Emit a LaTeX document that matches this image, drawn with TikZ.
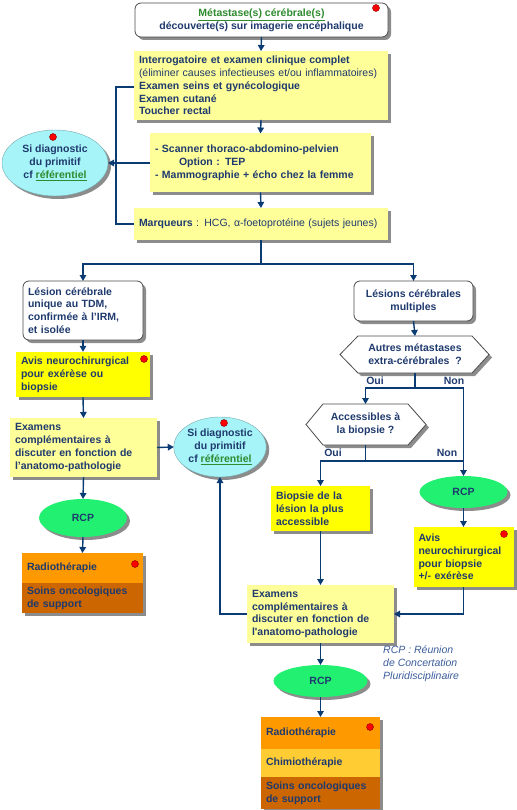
\documentclass[tikz,border=0pt]{standalone}
\usepackage{fontspec}
\setmainfont{Liberation Sans}
\usetikzlibrary{shadows,calc,arrows.meta,shapes.geometric}
\definecolor{navy}{HTML}{1F3A6E}
\definecolor{lnav}{HTML}{0B3B73}
\definecolor{pale}{HTML}{FFFF99}
\definecolor{brightY}{HTML}{FFFF00}
\definecolor{cyanE}{HTML}{A6F4F8}
\definecolor{greenE}{HTML}{22F070}
\definecolor{orA}{HTML}{FF9900}
\definecolor{orB}{HTML}{FFCC33}
\definecolor{orC}{HTML}{CC6600}
\definecolor{linkG}{HTML}{2E8B2E}
\definecolor{noteC}{HTML}{3A5C9A}
\tikzset{
 base/.style={font=\bfseries\fontsize{10.5}{12.8}\selectfont, text=navy, inner sep=5pt, outer sep=0pt},
 shad/.style={drop shadow={shadow xshift=3pt, shadow yshift=-3pt, fill=black!45, opacity=1}},
 whitebox/.style={base, shad, rounded corners=6pt, draw=black!70, line width=0.8pt, fill=white},
 palebox/.style={base, shad, fill=pale, align=left},
 ybox/.style={base, shad, fill=brightY, align=left},
 orbox/.style={base, shad, align=left, anchor=north west, inner ysep=2pt},
 ellcy/.style={base, shad, ellipse, fill=cyanE, draw=cyanE!70!black, line width=0.4pt, inner sep=0pt, align=center},
 ellgr/.style={base, shad, ellipse, fill=greenE, inner sep=0pt, align=center},
 hexin/.style={inner sep=0pt, outer sep=0pt},
 hexsty/.style={shad, draw=black!70, line width=0.8pt, fill=white},
 reddot/.style={circle, fill=red, draw=red!50!black, line width=0.4pt, minimum size=7pt, inner sep=0pt},
 ln/.style={draw=lnav, line width=1.4pt},
 arr/.style={ln, -{Triangle[length=6pt,width=6.5pt]}},
 lbl/.style={base, inner sep=0pt},
}
\begin{document}
\begin{tikzpicture}[x=1pt,y=-1pt]
\useasboundingbox (0,0) rectangle (516,810);
% top
\node[whitebox, minimum width=253pt, minimum height=34pt, align=center] (box1) at (261.5,20)
 {{\color{linkG}\underline{Métastase(s) cérébrale(s)}}\\découverte(s) sur imagerie encéphalique};
\node[reddot] (d1) at (376,8) {};
\node[palebox, minimum height=65pt, text width=244pt] (box2) at (261,85.5)
 {Interrogatoire et examen clinique complet\\{\mdseries (éliminer causes infectieuses et/ou inflammatoires)}\\Examen seins et gynécologique\\Examen cutané\\Toucher rectal};
\node[palebox, minimum height=59pt, text width=211pt] (box3) at (260.5,163)
 {- Scanner thoraco-abdomino-pelvien\\\hspace*{24pt}Option : TEP\\- Mammographie + écho chez la femme};
\node[palebox, minimum height=32pt, text width=244pt] (box4) at (261,224)
 {Marqueurs {\mdseries : HCG, α-foetoprotéine (sujets jeunes)}};
\node[ellcy, minimum width=106pt, minimum height=66pt] (ellL) at (55,163)
 {Si diagnostic\\du primitif\\cf {\color{linkG}\underline{référentiel}}};
\node[reddot] (d2) at (53,137) {};
% left branch
\node[whitebox, minimum height=59pt, text width=110pt, align=left] (lesL) at (83,310.5)
 {Lésion cérébrale\\unique au TDM,\\confirmée à l’IRM,\\et isolée};
\node[ybox, minimum height=45pt, text width=124pt] (avisL) at (83,374.5)
 {Avis neurochirurgical\\pour exérèse ou\\biopsie};
\node[reddot] (d3) at (144,359) {};
\node[palebox, minimum height=59pt, text width=137pt] (examL) at (83.5,447.5)
 {Examens\\complémentaires à\\discuter en fonction de\\l’anatomo-pathologie};
\node[ellcy, minimum width=92pt, minimum height=60pt] (ellM) at (220,447)
 {Si diagnostic\\du primitif\\cf {\color{linkG}\underline{référentiel}}};
\node[reddot] (d4) at (224,423) {};
\node[ellgr, minimum width=88pt, minimum height=38pt] (rcpL) at (83,518) {RCP};
\node[orbox, fill=orA, minimum height=30pt, text width=111pt] (radL) at (22,553) {Radiothérapie};
\node[orbox, fill=orC, minimum height=30pt, text width=111pt] (soinsL) at (22,583) {Soins oncologiques\\de support};
\node[reddot] (d5) at (135,564) {};
% right branch
\node[whitebox, minimum width=119pt, minimum height=40pt, align=center] (lesM) at (413.5,301)
 {Lésions cérébrales\\multiples};
\node[hexin, minimum width=114pt, minimum height=37pt] (hex1) at (415,354.5) {};
\path[hexsty] (hex1.north west) -- (hex1.north east) -- ([xshift=17pt]hex1.east) -- (hex1.south east)
  -- (hex1.south west) -- ([xshift=-18pt]hex1.west) -- cycle;
\node[base, align=center] (hex1t) at (hex1) {Autres métastases\\extra-cérébrales~ ?};
\node[hexin, minimum width=85pt, minimum height=41pt] (hex2) at (365.5,424.5) {};
\path[hexsty] (hex2.north west) -- (hex2.north east) -- ([xshift=18pt]hex2.east) -- (hex2.south east)
  -- (hex2.south west) -- ([xshift=-17pt]hex2.west) -- cycle;
\node[base, align=center] (hex2t) at (hex2) {Accessibles à\\la biopsie ?};
\node[ybox, minimum height=45pt, text width=89pt] (biop) at (320.5,508.5)
 {Biopsie de la\\lésion la plus\\accessible};
\node[ellgr, minimum width=88pt, minimum height=32pt] (rcpR) at (463.5,492) {RCP};
\node[ybox, minimum height=60pt, text width=90pt] (avisR) at (463.5,557)
 {Avis\\neurochirurgical\\pour biopsie\\+/- exérèse};
\node[reddot] (d6) at (504,534) {};
\node[palebox, minimum height=58pt, text width=137pt] (examR) at (320.5,614)
 {Examens\\complémentaires à\\discuter en fonction de\\l\textquotesingle anatomo-pathologie};
\node[font=\itshape\fontsize{10.5}{12.8}\selectfont, text=noteC, align=left, anchor=north west, inner sep=0pt] (note) at (383,646)
 {RCP : Réunion\\de Concertation\\Pluridisciplinaire};
\node[ellgr, minimum width=94pt, minimum height=32pt] (rcpB) at (320.5,681) {RCP};
\node[orbox, fill=orA, minimum height=32pt, text width=109pt] (radB) at (261,717) {Radiothérapie};
\node[orbox, fill=orB, minimum height=28pt, text width=109pt] (chimB) at (261,749) {Chimiothérapie};
\node[orbox, fill=orC, minimum height=32pt, text width=109pt] (soinsB) at (261,777) {Soins oncologiques\\de support};
\node[reddot] (d7) at (370,727) {};
% labels
\node[lbl] (oui1) at (375,381) {Oui};
\node[lbl] (non1) at (454,381) {Non};
\node[lbl] (oui2) at (333,453) {Oui};
\node[lbl] (non2) at (447,453) {Non};
% connectors
\draw[arr] (box1.south) -- (box2.north);
\draw[arr] (box2.south) -- (box3.north);
\draw[arr] (box3.south) -- (box4.north);
\coordinate (lv) at (116,87);
\draw[ln] (box2.west |- lv) -- (lv) -- (lv |- box4.west) -- (box4.west);
\draw[arr] (box3.west) -- (ellL.east);
\coordinate (j0) at ($(box4.south)+(0,24)$);
\draw[arr] (box4.south) -- (j0) -| (lesL.north);
\draw[arr] (j0) -| (lesM.north);
\draw[arr] (lesL.south) -- (avisL.north);
\draw[arr] (avisL.south) -- (examL.north);
\draw[arr] (examL.east) -- (ellM.west);
\draw[arr] (examL.south) -- (rcpL.north);
\draw[arr] (rcpL.south) -- (radL.north);
\draw[arr] (lesM.south) -- (hex1.north);
\coordinate (j1) at ($(hex1.south)+(0,15)$);
\draw[arr] (hex1.south) -- (j1) -| (hex2.north);
\draw[arr] (j1) -| (rcpR.north);
\coordinate (j2) at ($(hex2.south)+(0,16)$);
\draw[arr] (hex2.south) -- (j2) -| (biop.north);
\draw[ln] (j2) -- (j2 -| rcpR.north);
\draw[arr] (biop.south) -- (examR.north);
\draw[arr] (rcpR.south) -- (avisR.north);
\draw[arr] (avisR.south) |- (examR.east);
\draw[arr] (examR.west) -| (ellM.south);
\draw[arr] (examR.south) -- (rcpB.north);
\draw[arr] (rcpB.south) -- (radB.north);
\end{tikzpicture}
\end{document}
